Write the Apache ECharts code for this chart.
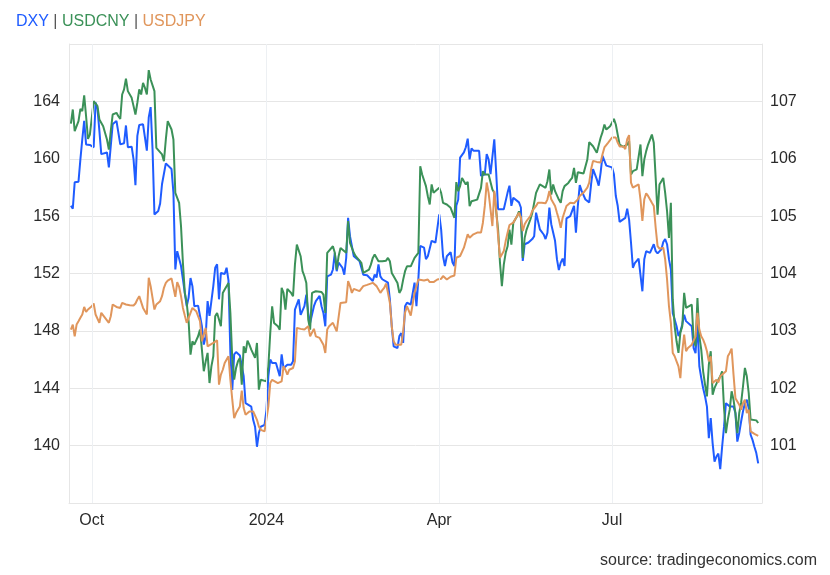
<!DOCTYPE html>
<html>
<head>
<meta charset="utf-8">
<script src="https://cdn.jsdelivr.net/npm/echarts@6/dist/echarts.min.js"></script>
<style>html,body{margin:0;padding:0;background:#fff}#chart{width:830px;height:575px}</style>
</head>
<body>
<div id="chart"></div>
<script>
// Day 0 = 2023-09-19; each pair is [day offset, value]
const startDate = '2023-09-19';
const axisStartDay = 0;
const axisEndDay = 365;

const xTickDates = ['2023-10-01', '2024-01-01', '2024-04-01', '2024-07-01'];
const xTickLabels = ['Oct', '2024', 'Apr', 'Jul'];

const seriesNames = ['DXY', 'USDCNY', 'USDJPY'];

const dxy = [[1,105.18],[2,105.13],[3,105.59],[5,105.60],[6,105.99],[7,106.34],[8,106.66],[9,106.25],[11,106.24],[13,106.20],[14,106.98],[15,106.87],[16,106.49],[17,106.08],[20,106.11],[21,105.85],[22,105.84],[23,106.60],[25,106.66],[26,106.63],[27,106.25],[29,106.27],[30,106.58],[31,106.20],[33,106.21],[34,105.99],[35,105.54],[36,106.40],[37,106.59],[38,106.58],[39,106.60],[40,106.60],[41,106.14],[42,106.72],[43,106.90],[44,106.17],[45,105.03],[47,105.09],[48,105.22],[49,105.56],[50,105.59],[51,105.92],[52,105.89],[54,105.82],[55,105.41],[56,104.07],[57,104.39],[58,104.36],[59,104.13],[60,103.90],[61,103.66],[62,103.43],[63,103.58],[64,103.92],[65,103.78],[66,103.43],[68,103.44],[69,103.43],[70,103.08],[71,102.76],[72,102.91],[73,103.52],[74,103.26],[75,103.23],[76,103.78],[77,104.10],[78,104.16],[79,103.55],[80,104.01],[81,104.01],[82,103.99],[83,104.10],[84,103.88],[85,102.61],[86,101.97],[87,102.59],[88,102.63],[90,102.57],[91,102.59],[92,102.21],[93,101.74],[94,101.71],[96,101.68],[97,101.45],[98,101.33],[99,100.98],[100,101.22],[101,101.33],[103,101.36],[104,101.62],[105,102.21],[106,102.50],[107,102.44],[109,102.44],[110,102.47],[111,102.21],[112,102.59],[113,102.35],[115,102.41],[117,102.41],[118,102.47],[119,103.37],[121,103.55],[122,103.28],[123,103.28],[124,103.43],[125,103.63],[126,103.31],[127,103.14],[129,103.43],[130,103.52],[132,103.61],[133,103.43],[134,103.31],[135,103.08],[136,103.95],[138,103.98],[139,104.07],[140,104.36],[141,104.04],[142,104.19],[144,104.10],[145,103.98],[146,104.27],[147,104.97],[148,104.65],[150,104.30],[151,104.27],[153,104.22],[154,104.10],[155,103.98],[157,103.97],[158,103.95],[160,103.87],[161,103.98],[162,103.93],[163,104.16],[164,103.95],[165,103.90],[166,103.90],[168,103.84],[169,103.55],[170,103.08],[171,102.73],[173,102.70],[174,102.91],[175,102.96],[176,102.79],[177,103.43],[178,103.49],[180,103.46],[181,103.49],[182,103.84],[183,103.43],[184,103.90],[185,104.48],[187,104.45],[188,104.25],[189,104.30],[191,104.57],[193,104.54],[195,105.03],[196,104.77],[197,104.30],[198,104.13],[199,104.30],[201,104.37],[202,104.19],[203,104.13],[204,105.18],[205,105.29],[206,106.02],[208,106.11],[209,106.20],[210,106.35],[211,105.99],[212,106.18],[213,106.14],[216,106.14],[217,105.70],[218,105.67],[219,105.73],[220,106.08],[221,105.99],[222,105.73],[223,105.70],[224,106.34],[225,105.76],[226,105.12],[227,105.09],[229,105.12],[230,105.15],[231,105.41],[232,105.53],[233,105.18],[234,105.32],[235,105.29],[237,105.24],[238,105.15],[239,104.22],[240,104.51],[242,104.54],[244,104.60],[245,104.65],[246,105.06],[247,105.05],[248,104.77],[250,104.68],[251,104.60],[252,104.71],[253,105.15],[254,104.86],[256,104.57],[257,104.25],[258,104.06],[259,104.19],[260,104.26],[261,104.13],[262,104.96],[264,105.00],[265,105.09],[266,105.18],[267,104.71],[268,105.18],[269,105.54],[270,105.44],[272,105.29],[273,105.27],[274,105.24],[275,105.56],[276,105.82],[278,105.64],[279,105.53],[280,105.76],[281,106.05],[283,105.88],[284,105.86],[286,105.85],[287,105.73],[288,105.35],[289,105.18],[290,104.90],[291,104.93],[293,104.97],[294,105.13],[295,104.94],[296,104.54],[297,104.10],[298,104.18],[300,104.26],[301,104.25],[302,103.69],[303,104.25],[304,104.39],[306,104.36],[307,104.33],[308,104.51],[309,104.39],[310,104.35],[312,104.42],[313,104.55],[314,104.60],[315,104.51],[316,104.25],[317,104.07],[318,103.31],[319,103.20],[320,103.08],[321,102.91],[322,102.99],[323,103.11],[324,103.28],[325,103.17],[326,103.14],[328,103.08],[329,102.70],[330,102.61],[331,103.14],[332,102.38],[333,102.18],[334,102.00],[335,101.86],[336,101.68],[337,101.13],[338,101.48],[339,101.04],[340,100.72],[341,100.81],[342,100.86],[343,100.59],[344,100.98],[345,101.33],[346,101.74],[348,101.68],[349,101.70],[350,101.68],[351,101.57],[352,101.07],[353,101.22],[354,101.42],[355,101.60],[356,101.74],[357,101.80],[358,101.65],[359,101.19],[360,101.10],[361,100.98],[362,100.87],[363,100.69]];

const usdcny = [[1,7.2880],[2,7.2972],[3,7.2830],[5,7.2896],[6,7.2976],[7,7.2961],[8,7.3064],[9,7.2928],[10,7.2780],[11,7.2808],[12,7.2918],[13,7.3027],[14,7.3027],[15,7.2994],[16,7.2907],[17,7.2907],[18,7.2863],[20,7.2776],[21,7.2710],[22,7.2830],[23,7.2939],[25,7.2950],[26,7.2928],[27,7.2911],[28,7.3070],[29,7.3103],[30,7.3173],[31,7.3092],[33,7.3048],[34,7.2994],[35,7.2939],[36,7.3016],[37,7.3103],[38,7.3070],[39,7.3146],[40,7.3114],[41,7.3070],[42,7.3229],[43,7.3168],[45,7.3092],[46,7.2721],[47,7.2710],[49,7.2678],[50,7.2634],[51,7.2776],[52,7.2896],[54,7.2841],[55,7.2776],[56,7.2427],[57,7.2438],[58,7.2362],[59,7.2209],[60,7.1969],[61,7.1773],[62,7.1708],[63,7.1588],[64,7.1370],[65,7.1457],[66,7.1435],[67,7.1424],[68,7.1490],[69,7.1533],[70,7.1402],[71,7.1261],[72,7.1326],[73,7.1381],[74,7.1184],[75,7.1293],[76,7.1359],[77,7.1620],[78,7.1642],[79,7.1599],[80,7.1555],[81,7.1773],[82,7.1795],[84,7.1838],[85,7.1642],[86,7.1337],[87,7.1206],[88,7.1283],[89,7.1326],[90,7.1348],[91,7.1174],[92,7.1424],[93,7.1381],[94,7.1461],[95,7.1435],[96,7.1402],[98,7.1348],[99,7.1446],[100,7.1141],[101,7.1206],[102,7.1195],[104,7.1195],[105,7.1293],[106,7.1511],[107,7.1686],[108,7.1577],[110,7.1555],[111,7.1533],[112,7.1806],[113,7.1773],[114,7.1664],[115,7.1799],[117,7.1773],[118,7.1751],[119,7.1958],[120,7.2089],[121,7.2100],[122,7.2013],[123,7.1915],[124,7.1882],[125,7.1838],[126,7.1599],[127,7.1533],[128,7.1773],[130,7.1784],[131,7.1773],[133,7.1779],[134,7.1762],[135,7.1642],[136,7.2035],[137,7.2039],[139,7.2078],[140,7.2035],[141,7.1926],[142,7.2013],[143,7.2067],[144,7.2056],[146,7.2035],[147,7.2242],[148,7.2100],[150,7.2035],[151,7.2013],[152,7.2002],[154,7.1969],[155,7.1904],[156,7.1893],[158,7.1926],[159,7.1958],[160,7.2002],[161,7.2024],[163,7.1980],[164,7.1982],[165,7.1980],[167,7.1984],[168,7.2002],[169,7.1980],[170,7.1904],[171,7.1882],[173,7.1838],[174,7.1773],[175,7.1795],[176,7.1860],[177,7.1915],[178,7.1947],[180,7.1947],[181,7.1952],[182,7.2002],[183,7.2002],[184,7.2035],[185,7.2601],[186,7.2547],[188,7.2471],[189,7.2405],[190,7.2351],[191,7.2482],[192,7.2427],[193,7.2438],[195,7.2460],[196,7.2427],[197,7.2362],[199,7.2351],[200,7.2340],[201,7.2329],[202,7.2296],[203,7.2264],[204,7.2497],[205,7.2438],[206,7.2471],[207,7.2525],[208,7.2503],[209,7.2482],[210,7.2499],[211,7.2340],[212,7.2372],[213,7.2372],[215,7.2383],[216,7.2394],[217,7.2460],[218,7.2569],[219,7.2547],[220,7.2536],[221,7.2547],[223,7.2449],[224,7.2427],[225,7.2307],[226,7.2187],[227,7.1969],[228,7.1817],[229,7.1958],[230,7.2035],[231,7.2078],[232,7.2187],[233,7.2089],[234,7.2231],[235,7.2253],[236,7.2274],[237,7.2307],[238,7.2264],[239,7.2002],[240,7.2133],[241,7.2187],[243,7.2253],[244,7.2296],[245,7.2362],[246,7.2427],[248,7.2482],[249,7.2471],[251,7.2460],[252,7.2503],[253,7.2580],[254,7.2416],[255,7.2482],[256,7.2438],[258,7.2383],[259,7.2362],[260,7.2438],[261,7.2471],[263,7.2492],[264,7.2510],[265,7.2525],[266,7.2590],[267,7.2492],[268,7.2562],[269,7.2558],[271,7.2553],[272,7.2547],[273,7.2645],[274,7.2758],[276,7.2732],[277,7.2710],[278,7.2689],[280,7.2787],[281,7.2824],[282,7.2874],[283,7.2841],[285,7.2863],[286,7.2885],[287,7.2911],[288,7.2874],[289,7.2808],[290,7.2743],[291,7.2737],[292,7.2728],[293,7.2715],[294,7.2743],[295,7.2765],[296,7.2547],[297,7.2569],[299,7.2580],[300,7.2591],[301,7.2743],[302,7.2536],[303,7.2645],[304,7.2700],[305,7.2743],[307,7.2808],[308,7.2754],[309,7.2525],[310,7.2285],[311,7.2482],[312,7.2503],[313,7.2525],[314,7.2427],[315,7.2307],[316,7.2133],[317,7.2362],[318,7.1729],[319,7.1555],[320,7.1457],[321,7.1381],[322,7.1511],[323,7.1555],[324,7.1773],[325,7.1675],[326,7.1675],[328,7.1697],[329,7.1468],[330,7.1424],[331,7.1740],[332,7.1490],[333,7.1402],[334,7.1261],[335,7.1174],[336,7.1097],[337,7.1304],[338,7.1392],[339,7.1108],[340,7.1152],[341,7.1152],[342,7.1206],[343,7.1228],[344,7.1261],[345,7.1021],[346,7.0857],[347,7.0945],[348,7.1010],[349,7.1130],[350,7.1075],[351,7.0988],[352,7.0857],[353,7.0988],[354,7.1054],[355,7.1163],[356,7.1283],[357,7.1228],[358,7.1119],[359,7.0945],[360,7.0945],[362,7.0940],[363,7.0923]];

const usdjpy = [[1,148.09],[2,148.44],[3,147.62],[4,148.44],[5,148.67],[6,148.91],[7,149.14],[8,149.67],[9,149.32],[10,149.49],[12,149.72],[13,149.91],[14,149.14],[15,149.07],[16,148.56],[17,149.26],[18,149.37],[19,148.91],[21,148.56],[22,149.02],[23,149.84],[25,149.67],[26,149.60],[27,149.60],[28,149.95],[30,149.84],[31,149.95],[32,149.79],[34,149.77],[35,149.91],[36,150.19],[37,150.42],[39,149.60],[40,149.37],[41,149.14],[42,151.70],[43,151.12],[44,150.30],[45,149.49],[46,149.84],[48,150.07],[49,150.42],[50,151.00],[51,151.35],[52,151.51],[54,151.66],[55,151.75],[56,150.37],[57,151.40],[58,151.07],[59,150.42],[60,149.60],[61,149.07],[62,148.56],[63,148.44],[64,149.26],[65,149.60],[66,149.60],[67,149.37],[68,149.02],[69,148.67],[70,147.27],[71,147.39],[72,148.21],[73,146.92],[74,147.04],[76,147.16],[77,147.27],[78,147.34],[79,144.25],[80,144.95],[81,145.29],[82,145.76],[84,146.23],[85,144.60],[86,143.20],[87,141.91],[88,142.27],[89,142.50],[90,142.73],[91,143.84],[92,142.62],[93,142.15],[95,142.38],[97,142.38],[98,142.27],[99,141.80],[100,141.33],[101,141.10],[103,140.99],[104,140.87],[105,142.73],[106,144.36],[107,144.59],[108,144.59],[110,144.36],[111,144.25],[112,144.48],[113,145.53],[114,145.29],[115,144.95],[116,145.29],[118,145.41],[119,145.88],[120,148.21],[121,148.21],[122,148.14],[124,148.09],[125,148.14],[126,148.32],[127,147.62],[128,147.62],[129,148.14],[130,147.62],[132,147.51],[133,147.39],[134,147.04],[135,146.46],[136,148.09],[137,148.32],[139,148.56],[140,148.67],[141,147.97],[142,148.09],[143,149.95],[144,150.00],[146,150.00],[147,151.47],[148,151.12],[149,150.65],[150,150.93],[151,150.89],[153,150.77],[154,150.65],[155,151.12],[157,151.21],[158,151.30],[160,151.35],[161,151.47],[162,151.12],[163,151.12],[164,150.65],[165,150.84],[166,151.00],[167,151.30],[168,150.65],[169,149.95],[170,148.32],[171,147.27],[172,147.04],[173,146.97],[175,147.04],[176,147.97],[177,149.26],[178,149.72],[180,149.07],[181,149.14],[182,150.65],[184,151.58],[185,151.47],[187,151.51],[188,151.51],[189,151.58],[190,151.40],[192,151.40],[193,151.47],[194,151.58],[195,151.70],[196,151.63],[197,151.82],[199,151.58],[200,151.70],[201,151.77],[203,151.86],[204,153.10],[206,153.22],[207,153.33],[208,153.80],[209,154.26],[210,154.73],[211,154.50],[212,154.61],[213,154.73],[215,154.85],[216,154.89],[217,154.85],[218,155.54],[219,156.71],[220,158.34],[221,157.64],[222,156.48],[223,155.31],[224,157.76],[225,156.48],[226,154.61],[227,153.10],[228,152.98],[229,153.56],[230,154.26],[231,154.85],[232,155.38],[234,155.54],[235,155.78],[236,156.01],[237,156.24],[238,155.89],[239,154.96],[240,155.43],[241,155.66],[243,156.01],[244,156.36],[245,156.48],[246,156.71],[247,156.94],[249,156.94],[251,156.90],[252,157.17],[253,157.76],[254,157.17],[255,157.06],[256,156.71],[257,156.24],[258,155.78],[259,155.19],[260,155.89],[261,155.78],[262,156.71],[263,156.76],[264,156.94],[266,156.90],[267,156.83],[268,157.17],[269,157.41],[271,157.64],[272,157.76],[273,157.99],[274,158.34],[275,159.27],[276,159.85],[278,159.78],[280,159.74],[281,160.32],[282,160.79],[283,160.86],[284,161.13],[286,161.48],[287,161.60],[288,161.48],[289,161.13],[290,160.86],[292,160.86],[293,160.67],[294,161.37],[295,161.65],[296,158.34],[297,157.99],[298,158.11],[300,158.22],[301,157.17],[302,155.66],[303,157.17],[304,157.59],[305,157.41],[307,156.94],[308,156.71],[309,155.19],[310,153.91],[311,153.73],[312,153.80],[313,153.80],[314,152.98],[315,151.58],[316,149.72],[317,148.56],[318,146.46],[319,146.23],[320,145.88],[321,145.53],[322,144.71],[323,146.58],[324,147.74],[325,146.58],[326,146.81],[328,147.04],[329,147.16],[330,147.62],[331,149.26],[332,148.09],[333,147.62],[334,147.39],[335,147.04],[336,146.58],[337,145.88],[338,146.23],[339,144.36],[340,144.48],[341,144.59],[342,144.41],[343,144.83],[344,144.83],[346,145.18],[347,146.23],[348,146.46],[349,146.76],[350,144.95],[351,143.31],[352,143.31],[353,142.85],[354,142.50],[355,142.97],[356,143.20],[357,142.27],[358,142.50],[359,140.99],[360,140.87],[361,140.82],[362,140.75],[363,140.68]];

// --- helpers ---
function parseLocal(s) {
  const p = s.split('-').map(Number);
  return new Date(p[0], p[1] - 1, p[2]).getTime();
}
function dayToTs(d) {
  const p = startDate.split('-').map(Number);
  return new Date(p[0], p[1] - 1, p[2] + d).getTime();
}
function toSeries(arr) { return arr.map(function (r) { return [dayToTs(r[0]), r[1]]; }); }

const tickTs = xTickDates.map(parseLocal);
const FONT = '"Liberation Sans", Arial, Helvetica, sans-serif';
const colors = { dxy: '#1f5cff', cny: '#3b9158', jpy: '#e0965c' };
const gridColor = '#e6e6e6';

const chart = echarts.init(document.getElementById('chart'), null, { renderer: 'canvas' });
chart.setOption({
  animation: false,
  backgroundColor: '#ffffff',
  textStyle: { fontFamily: FONT },
  title: {
    left: 16, top: 14, padding: 0,
    text: '{d|' + seriesNames[0] + '}{s| | }{c|' + seriesNames[1] + '}{s| | }{j|' + seriesNames[2] + '}',
    textStyle: {
      fontFamily: FONT, fontSize: 16, fontWeight: 'normal',
      rich: {
        d: { color: colors.dxy, fontSize: 16, fontFamily: FONT },
        c: { color: colors.cny, fontSize: 16, fontFamily: FONT },
        j: { color: colors.jpy, fontSize: 16, fontFamily: FONT },
        s: { color: '#555555', fontSize: 16, fontFamily: FONT }
      }
    }
  },
  graphic: [{
    type: 'text', right: 13, top: 553,
    style: { text: 'source: tradingeconomics.com', font: '16px ' + FONT, fill: '#333333' }
  }],
  grid: { left: 69, right: 68, top: 44, bottom: 72 },
  xAxis: {
    type: 'time',
    min: dayToTs(axisStartDay),
    max: dayToTs(axisEndDay),
    axisLine: { show: true, lineStyle: { color: gridColor, width: 1 } },
    axisTick: { show: false },
    axisLabel: { show: false },
    splitLine: { show: false }
  },
  yAxis: [
    {
      type: 'value', position: 'left', min: 136, max: 168, interval: 4,
      axisLine: { show: true, lineStyle: { color: gridColor } },
      axisTick: { show: false },
      axisLabel: { color: '#2a2a2a', fontSize: 16, fontFamily: FONT, margin: 9, showMinLabel: false, showMaxLabel: false },
      splitLine: { show: true, lineStyle: { color: gridColor, width: 1 } }
    },
    {
      type: 'value', position: 'right', min: 100, max: 108, interval: 1,
      axisLine: { show: true, lineStyle: { color: gridColor } },
      axisTick: { show: false },
      axisLabel: { color: '#2a2a2a', fontSize: 16, fontFamily: FONT, margin: 8, showMinLabel: false, showMaxLabel: false },
      splitLine: { show: false }
    },
    {
      type: 'value', position: 'right', min: 7.04, max: 7.34, show: false,
      splitLine: { show: false }
    }
  ],
  series: [
    {
      name: 'quarterGrid', type: 'line', yAxisIndex: 0, data: [], z: 1, silent: true,
      markLine: {
        silent: true, symbol: ['none', 'none'], animation: false,
        lineStyle: { color: '#edf0f3', width: 1, type: 'solid' },
        label: {
          show: true, position: 'start', distance: 10,
          color: '#2a2a2a', fontSize: 16, fontFamily: FONT,
          formatter: function (p) { return xTickLabels[p.dataIndex]; }
        },
        emphasis: { disabled: true },
        data: tickTs.map(function (t) { return { xAxis: t }; })
      }
    },
    { name: seriesNames[0], type: 'line', yAxisIndex: 1, data: toSeries(dxy), showSymbol: false, symbol: 'none',
      lineStyle: { color: colors.dxy, width: 2 }, itemStyle: { color: colors.dxy }, z: 2 },
    { name: seriesNames[1], type: 'line', yAxisIndex: 2, data: toSeries(usdcny), showSymbol: false, symbol: 'none',
      lineStyle: { color: colors.cny, width: 2 }, itemStyle: { color: colors.cny }, z: 3 },
    { name: seriesNames[2], type: 'line', yAxisIndex: 0, data: toSeries(usdjpy), showSymbol: false, symbol: 'none',
      lineStyle: { color: colors.jpy, width: 2 }, itemStyle: { color: colors.jpy }, z: 4 }
  ]
});
</script>
</body>
</html>
